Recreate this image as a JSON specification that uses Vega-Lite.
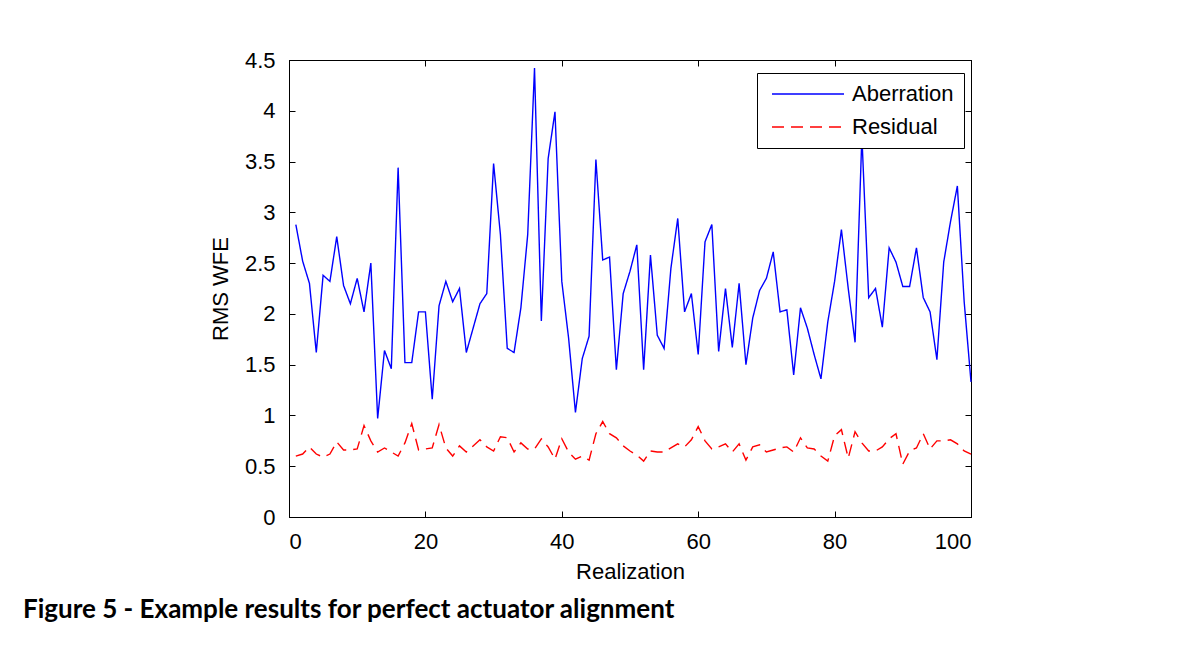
{
  "$schema": "https://vega.github.io/schema/vega-lite/v6.json",
  "autosize": {"type": "none"},
  "width": 682,
  "height": 457,
  "padding": {"left": 289, "top": 60, "right": 233, "bottom": 155},
  "background": "white",
  "config": {
    "view": {"stroke": "black", "strokeWidth": 1},
    "font": "Liberation Sans",
    "axis": {
      "domainColor": "#000000",
      "tickColor": "#000000",
      "labelColor": "#000000",
      "titleColor": "#000000",
      "labelFont": "Liberation Sans",
      "titleFont": "Liberation Sans",
      "labelFontSize": 22,
      "titleFontSize": 22,
      "titleFontWeight": "normal",
      "grid": false,
      "tickSize": -6,
      "domainWidth": 1,
      "tickWidth": 1
    },
    "legend": {
      "labelFont": "Liberation Sans",
      "labelFontSize": 22,
      "labelColor": "#000000"
    }
  },
  "title": {
    "text": "Figure 5 - Example results for perfect actuator alignment",
    "orient": "bottom",
    "anchor": "start",
    "frame": "group",
    "dx": -266,
    "offset": 15,
    "font": "Lato",
    "fontWeight": "bold",
    "fontSize": 26,
    "color": "#000000"
  },
  "data": {
    "values": [
      {"r": 1, "Aberration": 2.88, "Residual": 0.6},
      {"r": 2, "Aberration": 2.52, "Residual": 0.62},
      {"r": 3, "Aberration": 2.3, "Residual": 0.69},
      {"r": 4, "Aberration": 1.62, "Residual": 0.62},
      {"r": 5, "Aberration": 2.38, "Residual": 0.59},
      {"r": 6, "Aberration": 2.32, "Residual": 0.62},
      {"r": 7, "Aberration": 2.76, "Residual": 0.74},
      {"r": 8, "Aberration": 2.28, "Residual": 0.66},
      {"r": 9, "Aberration": 2.1, "Residual": 0.66},
      {"r": 10, "Aberration": 2.35, "Residual": 0.67},
      {"r": 11, "Aberration": 2.02, "Residual": 0.9},
      {"r": 12, "Aberration": 2.5, "Residual": 0.75},
      {"r": 13, "Aberration": 0.97, "Residual": 0.64},
      {"r": 14, "Aberration": 1.64, "Residual": 0.68},
      {"r": 15, "Aberration": 1.46, "Residual": 0.64},
      {"r": 16, "Aberration": 3.44, "Residual": 0.6},
      {"r": 17, "Aberration": 1.52, "Residual": 0.73},
      {"r": 18, "Aberration": 1.52, "Residual": 0.92},
      {"r": 19, "Aberration": 2.02, "Residual": 0.66},
      {"r": 20, "Aberration": 2.02, "Residual": 0.67},
      {"r": 21, "Aberration": 1.16, "Residual": 0.68},
      {"r": 22, "Aberration": 2.08, "Residual": 0.91},
      {"r": 23, "Aberration": 2.32, "Residual": 0.68},
      {"r": 24, "Aberration": 2.12, "Residual": 0.6},
      {"r": 25, "Aberration": 2.25, "Residual": 0.7},
      {"r": 26, "Aberration": 1.62, "Residual": 0.64},
      {"r": 27, "Aberration": 1.86, "Residual": 0.7},
      {"r": 28, "Aberration": 2.1, "Residual": 0.76},
      {"r": 29, "Aberration": 2.2, "Residual": 0.69},
      {"r": 30, "Aberration": 3.48, "Residual": 0.65},
      {"r": 31, "Aberration": 2.78, "Residual": 0.79},
      {"r": 32, "Aberration": 1.66, "Residual": 0.78},
      {"r": 33, "Aberration": 1.62, "Residual": 0.64},
      {"r": 34, "Aberration": 2.06, "Residual": 0.73},
      {"r": 35, "Aberration": 2.78, "Residual": 0.67},
      {"r": 36, "Aberration": 4.42, "Residual": 0.67},
      {"r": 37, "Aberration": 1.93, "Residual": 0.77},
      {"r": 38, "Aberration": 3.53, "Residual": 0.69},
      {"r": 39, "Aberration": 3.99, "Residual": 0.57},
      {"r": 40, "Aberration": 2.32, "Residual": 0.77},
      {"r": 41, "Aberration": 1.76, "Residual": 0.64},
      {"r": 42, "Aberration": 1.03, "Residual": 0.57},
      {"r": 43, "Aberration": 1.56, "Residual": 0.6},
      {"r": 44, "Aberration": 1.78, "Residual": 0.56},
      {"r": 45, "Aberration": 3.52, "Residual": 0.82},
      {"r": 46, "Aberration": 2.53, "Residual": 0.94},
      {"r": 47, "Aberration": 2.56, "Residual": 0.82},
      {"r": 48, "Aberration": 1.45, "Residual": 0.78},
      {"r": 49, "Aberration": 2.2, "Residual": 0.7},
      {"r": 50, "Aberration": 2.42, "Residual": 0.65},
      {"r": 51, "Aberration": 2.68, "Residual": 0.61},
      {"r": 52, "Aberration": 1.45, "Residual": 0.55},
      {"r": 53, "Aberration": 2.58, "Residual": 0.65},
      {"r": 54, "Aberration": 1.79, "Residual": 0.64},
      {"r": 55, "Aberration": 1.66, "Residual": 0.64},
      {"r": 56, "Aberration": 2.45, "Residual": 0.68},
      {"r": 57, "Aberration": 2.94, "Residual": 0.72},
      {"r": 58, "Aberration": 2.02, "Residual": 0.69},
      {"r": 59, "Aberration": 2.2, "Residual": 0.76},
      {"r": 60, "Aberration": 1.6, "Residual": 0.89},
      {"r": 61, "Aberration": 2.71, "Residual": 0.75},
      {"r": 62, "Aberration": 2.88, "Residual": 0.67},
      {"r": 63, "Aberration": 1.63, "Residual": 0.69},
      {"r": 64, "Aberration": 2.25, "Residual": 0.72},
      {"r": 65, "Aberration": 1.67, "Residual": 0.64},
      {"r": 66, "Aberration": 2.3, "Residual": 0.72},
      {"r": 67, "Aberration": 1.5, "Residual": 0.56},
      {"r": 68, "Aberration": 1.96, "Residual": 0.69},
      {"r": 69, "Aberration": 2.23, "Residual": 0.71},
      {"r": 70, "Aberration": 2.35, "Residual": 0.64},
      {"r": 71, "Aberration": 2.61, "Residual": 0.66},
      {"r": 72, "Aberration": 2.02, "Residual": 0.68},
      {"r": 73, "Aberration": 2.04, "Residual": 0.69},
      {"r": 74, "Aberration": 1.4, "Residual": 0.64},
      {"r": 75, "Aberration": 2.06, "Residual": 0.78},
      {"r": 76, "Aberration": 1.86, "Residual": 0.68},
      {"r": 77, "Aberration": 1.6, "Residual": 0.67},
      {"r": 78, "Aberration": 1.36, "Residual": 0.6},
      {"r": 79, "Aberration": 1.92, "Residual": 0.55},
      {"r": 80, "Aberration": 2.32, "Residual": 0.8},
      {"r": 81, "Aberration": 2.83, "Residual": 0.86},
      {"r": 82, "Aberration": 2.25, "Residual": 0.58},
      {"r": 83, "Aberration": 1.72, "Residual": 0.84},
      {"r": 84, "Aberration": 3.75, "Residual": 0.73},
      {"r": 85, "Aberration": 2.16, "Residual": 0.65},
      {"r": 86, "Aberration": 2.25, "Residual": 0.65},
      {"r": 87, "Aberration": 1.87, "Residual": 0.69},
      {"r": 88, "Aberration": 2.65, "Residual": 0.77},
      {"r": 89, "Aberration": 2.51, "Residual": 0.82},
      {"r": 90, "Aberration": 2.27, "Residual": 0.52},
      {"r": 91, "Aberration": 2.27, "Residual": 0.65},
      {"r": 92, "Aberration": 2.65, "Residual": 0.68},
      {"r": 93, "Aberration": 2.16, "Residual": 0.82},
      {"r": 94, "Aberration": 2.02, "Residual": 0.67},
      {"r": 95, "Aberration": 1.55, "Residual": 0.75},
      {"r": 96, "Aberration": 2.51, "Residual": 0.75},
      {"r": 97, "Aberration": 2.91, "Residual": 0.76},
      {"r": 98, "Aberration": 3.26, "Residual": 0.72},
      {"r": 99, "Aberration": 2.12, "Residual": 0.65},
      {"r": 100, "Aberration": 1.33, "Residual": 0.62}
    ]
  },
  "transform": [{"fold": ["Aberration", "Residual"], "as": ["series", "v"]}],
  "layer": [
    {
      "transform": [{"filter": "datum.series === 'Aberration'"}],
      "mark": {"type": "line", "strokeWidth": 1.4},
      "encoding": {
        "x": {"field": "r", "type": "quantitative", "scale": {"domain": [0, 100], "nice": false},
              "axis": {"orient": "bottom", "values": [0, 20, 40, 60, 80, 100], "title": "Realization", "labelPadding": 20, "titlePadding": 9}},
        "y": {"field": "v", "type": "quantitative", "scale": {"domain": [0, 4.5], "nice": false, "zero": true},
              "axis": {"orient": "left", "values": [0, 0.5, 1, 1.5, 2, 2.5, 3, 3.5, 4, 4.5], "format": "~g", "title": "RMS WFE", "labelPadding": 20, "titlePadding": 12}},
        "color": {"field": "series", "type": "nominal",
                  "scale": {"domain": ["Aberration", "Residual"], "range": ["#0000ff", "#ff0000"]},
                  "legend": {"title": null, "orient": "none", "legendX": 468, "legendY": 13, "strokeColor": "#000000", "fillColor": "#ffffff", "padding": 10, "symbolType": "M-4,0H4", "symbolSize": 324, "symbolOffset": 30, "symbolStrokeWidth": 1.4, "rowPadding": 11, "labelOffset": 33}},
        "strokeDash": {"field": "series", "type": "nominal",
                       "scale": {"domain": ["Aberration", "Residual"], "range": [[1, 0], [12, 7]]},
                       "legend": {"title": null, "orient": "none", "legendX": 468, "legendY": 13, "strokeColor": "#000000", "fillColor": "#ffffff", "padding": 10, "symbolType": "M-4,0H4", "symbolSize": 324, "symbolOffset": 30, "symbolStrokeWidth": 1.4, "rowPadding": 11, "labelOffset": 33}}
      }
    },
    {
      "transform": [{"filter": "datum.series === 'Residual'"}],
      "mark": {"type": "line", "strokeWidth": 1.4},
      "encoding": {
        "x": {"field": "r", "type": "quantitative", "scale": {"domain": [0, 100], "nice": false},
              "axis": {"orient": "top", "values": [0, 20, 40, 60, 80, 100], "labels": false, "title": null}},
        "y": {"field": "v", "type": "quantitative", "scale": {"domain": [0, 4.5], "nice": false, "zero": true},
              "axis": {"orient": "right", "values": [0, 0.5, 1, 1.5, 2, 2.5, 3, 3.5, 4, 4.5], "labels": false, "title": null}},
        "color": {"field": "series", "type": "nominal"},
        "strokeDash": {"field": "series", "type": "nominal"}
      }
    }
  ],
  "resolve": {"axis": {"x": "independent", "y": "independent"}}
}
